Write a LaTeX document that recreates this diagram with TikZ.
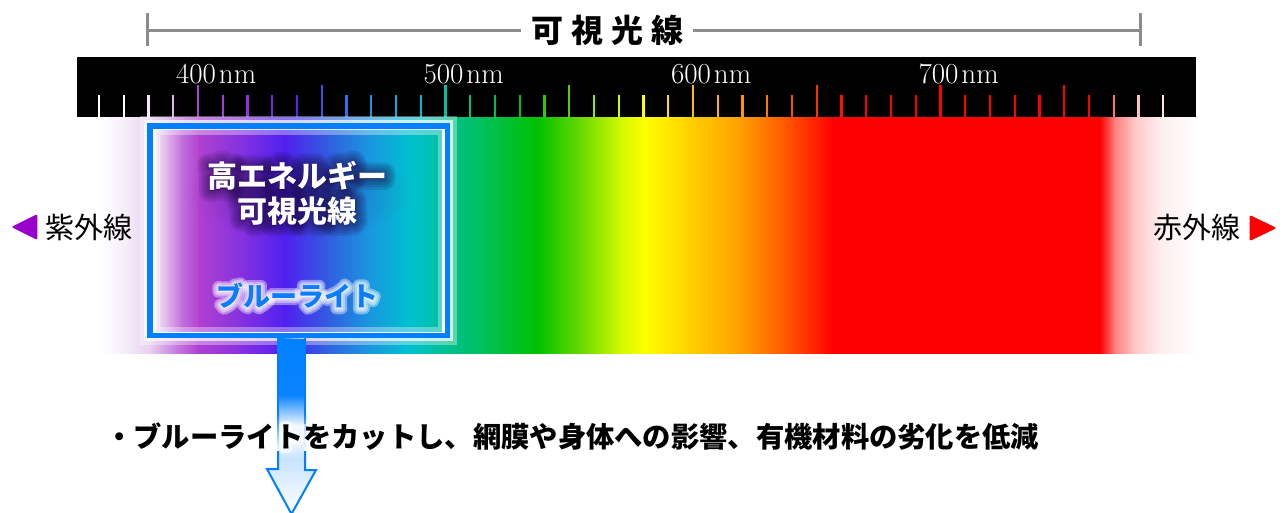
\documentclass[tikz,border=0pt]{standalone}
\usepackage{fontspec}
\newfontfamily\jp{Noto Sans CJK JP}
\usetikzlibrary{calc,fadings}
\tikzfading[name=softblob, inner color=transparent!0, outer color=transparent!100]
% spectrum colours
\definecolor{sA}{HTML}{FFFFFF}\definecolor{sB}{HTML}{F6EEFA}\definecolor{sC}{HTML}{E8D0F0}
\definecolor{sD}{HTML}{C880E0}\definecolor{sE}{HTML}{B040D0}\definecolor{sF}{HTML}{8A30E0}
\definecolor{sG}{HTML}{5020F0}\definecolor{sH}{HTML}{3060E0}\definecolor{sI}{HTML}{1A98E0}
\definecolor{sJ}{HTML}{00C0D0}\definecolor{sK}{HTML}{00C090}\definecolor{sL}{HTML}{00C060}
\definecolor{sM}{HTML}{00C000}\definecolor{sN}{HTML}{80E000}\definecolor{sO}{HTML}{D0F800}
\definecolor{sP}{HTML}{FFFF00}\definecolor{sQ}{HTML}{FFD000}\definecolor{sR}{HTML}{FFA000}
\definecolor{sS}{HTML}{FF5000}\definecolor{sT}{HTML}{FF0000}\definecolor{sU}{HTML}{FF0000}
\definecolor{sV}{HTML}{FF8080}\definecolor{sW}{HTML}{FFC8C8}\definecolor{sX}{HTML}{FFEEEE}
\definecolor{sY}{HTML}{FFFFFF}
% box interior colours
\definecolor{bA}{HTML}{F4E8F8}\definecolor{bB}{HTML}{DDB0EA}\definecolor{bC}{HTML}{C070DC}
\definecolor{bD}{HTML}{B040D0}\definecolor{bE}{HTML}{8030E0}\definecolor{bF}{HTML}{5020F0}
\definecolor{bG}{HTML}{3060E0}\definecolor{bH}{HTML}{1898E0}\definecolor{bI}{HTML}{00C0D0}
\definecolor{bJ}{HTML}{00C0A0}
% arrow colours
\definecolor{aA}{HTML}{0080FF}\definecolor{aB}{HTML}{0A84FF}\definecolor{aC}{HTML}{F2F8FF}
\definecolor{aD}{HTML}{C8E2FF}\definecolor{aE}{HTML}{FFFFFF}
% others
\definecolor{boxblue}{HTML}{0080FF}
\definecolor{bltext}{HTML}{0A7CFF}
\definecolor{linegray}{HTML}{8C8C8C}
\definecolor{uvpurple}{HTML}{9900CC}
\definecolor{irred}{HTML}{FF0000}
\definecolor{glowdark}{HTML}{1A0840}
\definecolor{tk}{HTML}{FFFFFF}
% stroked text (text render mode 2) for glows
\newcommand\strokedtext[3]{\special{pdf:literal direct 2 Tr #1 w 1 J 1 j #2 RG}#3\special{pdf:literal direct 0 Tr}}
\begin{document}
\begin{tikzpicture}[x=1pt,y=-1pt,
  jpfont/.style={font={\jp\fontsize{#1}{#1}\selectfont}},
  jpbold/.style={font={\jp\bfseries\fontsize{#1}{#1}\selectfont}},
  nmlabel/.style={text=white,font={\fontsize{29}{29}\selectfont},anchor=base,inner sep=0pt},
  grayline/.style={draw=linegray,line width=3},
  tickmark/.style={line width=2.2},
  boxtext/.style={jpbold=30,inner sep=0pt},
  bltxt/.style={jpbold=27,inner sep=0pt},
  notetext/.style={jpbold=28.3,inner sep=0pt,anchor=west}]
\useasboundingbox (0,0) rectangle (1285,512);
\fill[white] (0,0) rectangle (1285,512);

% ---- title with gray range line
\node[jpbold=32,inner xsep=10pt,inner ysep=0pt] (title) at (607,30) {可\kern8pt 視\kern8pt 光\kern8pt 線};
\coordinate (rl) at (147,30);
\coordinate (rr) at (1140,30);
\draw[grayline] (rl) -- (title.west);
\draw[grayline] (title.east) -- (rr);
\draw[grayline] ($(rl)+(0,-17)$) -- ($(rl)+(0,16)$);
\draw[grayline] ($(rr)+(0,-17)$) -- ($(rr)+(0,16)$);

% ---- spectrum band
\foreach \xa/\ca/\xb/\cb in {100/sA/125/sB,125/sB/150/sC,150/sC/175/sD,175/sD/198/sE,198/sE/240/sF,
  240/sF/285/sG,285/sG/325/sH,325/sH/370/sI,370/sI/410/sJ,410/sJ/445/sK,445/sK/480/sL,480/sL/537/sM,
  537/sM/590/sN,590/sN/620/sO,620/sO/645/sP,645/sP/690/sQ,690/sQ/740/sR,740/sR/790/sS,790/sS/833/sT,
  833/sT/1100/sU,1100/sU/1115/sV,1115/sV/1135/sW,1135/sW/1160/sX,1160/sX/1200/sY}
  \shade[left color=\ca,right color=\cb] (\xa-0.4,116) rectangle (\xb+0.4,353);

% ---- black scale bar and ticks
\fill[black] (77,57) rectangle (1196,116.5);
\foreach \h [count=\k from 0] in {FFFFFF,FFFFFF,F4E8F8,E0B0E8,B040D0,A040D8,9030E0,7028E8,5525F0,4050F0,
  3070E8,2090E0,10A8D8,00B8C8,00C0A0,00C070,00C040,00C010,30C800,50D000,
  90E800,D0F800,FFFF00,FFE000,FFC000,FFB000,FF9800,FF7800,FF5000,FF3000,
  FF1000,FF0000,FF0000,FF0000,FF0000,FF0000,FF0000,FF0000,FF0000,FF0000,
  FF0000,FF7070,FFC0C0,FFE4E4}{
  \edef\tmpdef{\noexpand\definecolor{tk}{HTML}{\h}}\tmpdef
  \pgfmathsetmacro\xx{99+24.75*\k}
  \pgfmathsetmacro\yy{mod(\k+1,5)==0 ? 85 : 95}
  \draw[tickmark,tk] (\xx,\yy) -- (\xx,116.5);
}
\node[nmlabel] (n400) at (196,83) {400\rlap{\kern3pt nm}};
\node[nmlabel] (n500) at (443.5,83) {500\rlap{\kern3pt nm}};
\node[nmlabel] (n600) at (691,83) {600\rlap{\kern3pt nm}};
\node[nmlabel] (n700) at (938.5,83) {700\rlap{\kern3pt nm}};

% ---- box glow, interior, border
\draw[white,opacity=0.35,line width=20] (149.75,125.75) rectangle (447.25,335.25);
\draw[white,opacity=0.7,line width=11] (149.75,125.75) rectangle (447.25,335.25);
\foreach \xa/\ca/\xb/\cb in {155/bA/168/bB,168/bB/182/bC,182/bC/200/bD,200/bD/245/bE,245/bE/285/bF,
  285/bF/330/bG,330/bG/370/bH,370/bH/410/bI,410/bI/444/bJ}
  \shade[left color=\ca,right color=\cb] (\xa-0.4,130) rectangle (\xb+0.4,332);
\draw[white,opacity=0.35,line width=9] (155,130) rectangle (442,331);
\draw[white,line width=3.5] (154,127.5) rectangle (443.5,333.5);
\node[draw=boxblue,line width=5.5,minimum width=297.5,minimum height=209.5,inner sep=0pt] (box) at (298.5,230.5) {};

% ---- arrow from box
\coordinate (atop) at ($(box.south)+(-7,0)$);
\coordinate (atip) at ($(box.south)+(-7,176)$);
\begin{scope}
  \clip (atop) ++(-13.5,0) -- ++(0,131) -- ++(-11,0) -- (atip) -- ++(24.5,-44) -- ++(-11,0) -- ++(0,-131) -- cycle;
  \shade[top color=aA,bottom color=aB] (250,334) rectangle (330,395.4);
  \shade[top color=aB,bottom color=aC] (250,395) rectangle (330,425.4);
  \shade[top color=aC,bottom color=aC] (250,425) rectangle (330,440.4);
  \shade[top color=aC,bottom color=aD] (250,440) rectangle (330,458.4);
  \shade[top color=aD,bottom color=aE] (250,458) rectangle (330,512);
\end{scope}
\draw[boxblue,line width=2] (atop) ++(-13.5,0) -- ++(0,75);
\draw[boxblue,line width=2] (atop) ++(13.5,0) -- ++(0,75);
\draw[boxblue,line width=2] (atop) ++(-13.5,112) -- ++(0,19) -- ++(-11,0) -- (atip) -- ++(24.5,-44) -- ++(-11,0) -- ++(0,-19);
\shade[top color=boxblue,bottom color=white] ($(atop)+(-14.5,75)$) rectangle ($(atop)+(-12.5,112.5)$);
\shade[top color=boxblue,bottom color=white] ($(atop)+(12.5,75)$) rectangle ($(atop)+(14.5,112.5)$);

% ---- texts inside box: soft dark halo built from concentric strokes
\fill[glowdark,opacity=0.2,path fading=softblob] (297,194) ellipse (115 and 45);
\foreach \w in {22,17,12,7,3} {
  \node[boxtext,text=glowdark,opacity=0.13] (hiS\w) at (297,176) {\strokedtext{\w}{0.1 0.03 0.25}{高エネルギー}};
  \node[boxtext,text=glowdark,opacity=0.13] (vlS\w) at (297,211) {\strokedtext{\w}{0.1 0.03 0.25}{可視光線}};
}
\node[boxtext,text=white] (hi) at (297,176) {高エネルギー};
\node[boxtext,text=white] (vl) at (297,211) {可視光線};
\foreach \w in {12,8,4} 
  \node[bltxt,text=white,opacity=0.4] (blS\w) at (297,296) {\strokedtext{\w}{1 1 1}{ブルーライト}};
\node[bltxt,text=bltext] (bl) at (297,296) {ブルーライト};

% ---- UV / IR labels
\node[jpfont=29,inner sep=0pt] (uv) at (89,227) {紫外線};
\fill[uvpurple,rounded corners=1.5] ($(uv.west)+(-8,-13)$) -- ($(uv.west)+(-8,13)$) -- ($(uv.west)+(-34,0)$) -- cycle;
\node[jpfont=29,inner sep=0pt] (ir) at (1197,228) {赤外線};
\fill[irred,rounded corners=1.5] ($(ir.east)+(9,-13)$) -- ($(ir.east)+(9,13)$) -- ($(ir.east)+(36,0)$) -- cycle;

% ---- note text with a light white halo
\node[notetext,text=white,opacity=0.6] (noteS) at (105,437) {\strokedtext{8}{1 1 1}{・ブルーライトをカットし、網膜や身体への影響、有機材料の劣化を低減}};
\node[notetext] (note) at (105,437) {・ブルーライトをカットし、網膜や身体への影響、有機材料の劣化を低減};
\end{tikzpicture}
\end{document}
